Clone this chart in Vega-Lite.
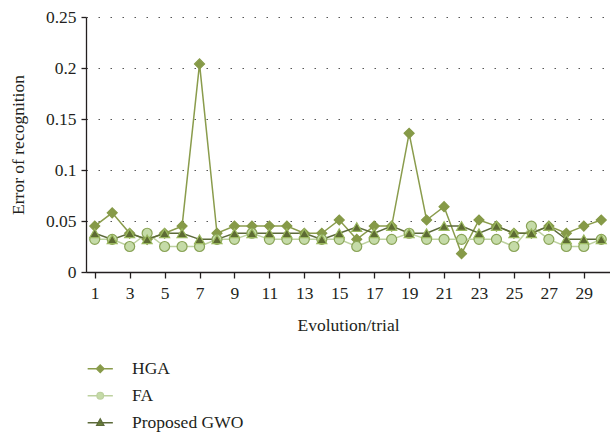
{
  "$schema": "https://vega.github.io/schema/vega-lite/v6.json",
  "width": 524,
  "height": 255,
  "autosize": {"type": "none"},
  "padding": {"left": 86, "top": 17, "right": 0, "bottom": 162},
  "background": "white",
  "config": {
    "font": "Liberation Serif",
    "view": {"stroke": null},
    "legend": {"orient": "none", "legendX": 5.5, "legendY": 343, "direction": "vertical", "labelFont": "Liberation Serif", "labelFontSize": 17.5, "labelColor": "#231f20", "rowPadding": 8, "labelOffset": 23, "symbolSize": 36}
  },
  "data": {"values": [
    {"trial": 1, "method": "HGA", "error": 0.045}, {"trial": 2, "method": "HGA", "error": 0.058}, {"trial": 3, "method": "HGA", "error": 0.038}, {"trial": 4, "method": "HGA", "error": 0.032}, {"trial": 5, "method": "HGA", "error": 0.038},
    {"trial": 6, "method": "HGA", "error": 0.045}, {"trial": 7, "method": "HGA", "error": 0.204}, {"trial": 8, "method": "HGA", "error": 0.038}, {"trial": 9, "method": "HGA", "error": 0.045}, {"trial": 10, "method": "HGA", "error": 0.045},
    {"trial": 11, "method": "HGA", "error": 0.045}, {"trial": 12, "method": "HGA", "error": 0.045}, {"trial": 13, "method": "HGA", "error": 0.038}, {"trial": 14, "method": "HGA", "error": 0.038}, {"trial": 15, "method": "HGA", "error": 0.051},
    {"trial": 16, "method": "HGA", "error": 0.032}, {"trial": 17, "method": "HGA", "error": 0.045}, {"trial": 18, "method": "HGA", "error": 0.045}, {"trial": 19, "method": "HGA", "error": 0.136}, {"trial": 20, "method": "HGA", "error": 0.051},
    {"trial": 21, "method": "HGA", "error": 0.064}, {"trial": 22, "method": "HGA", "error": 0.018}, {"trial": 23, "method": "HGA", "error": 0.051}, {"trial": 24, "method": "HGA", "error": 0.045}, {"trial": 25, "method": "HGA", "error": 0.038},
    {"trial": 26, "method": "HGA", "error": 0.038}, {"trial": 27, "method": "HGA", "error": 0.045}, {"trial": 28, "method": "HGA", "error": 0.038}, {"trial": 29, "method": "HGA", "error": 0.045}, {"trial": 30, "method": "HGA", "error": 0.051},
    {"trial": 1, "method": "FA", "error": 0.032}, {"trial": 2, "method": "FA", "error": 0.032}, {"trial": 3, "method": "FA", "error": 0.025}, {"trial": 4, "method": "FA", "error": 0.038}, {"trial": 5, "method": "FA", "error": 0.025},
    {"trial": 6, "method": "FA", "error": 0.025}, {"trial": 7, "method": "FA", "error": 0.025}, {"trial": 8, "method": "FA", "error": 0.032}, {"trial": 9, "method": "FA", "error": 0.032}, {"trial": 10, "method": "FA", "error": 0.038},
    {"trial": 11, "method": "FA", "error": 0.032}, {"trial": 12, "method": "FA", "error": 0.032}, {"trial": 13, "method": "FA", "error": 0.032}, {"trial": 14, "method": "FA", "error": 0.032}, {"trial": 15, "method": "FA", "error": 0.032},
    {"trial": 16, "method": "FA", "error": 0.025}, {"trial": 17, "method": "FA", "error": 0.032}, {"trial": 18, "method": "FA", "error": 0.032}, {"trial": 19, "method": "FA", "error": 0.038}, {"trial": 20, "method": "FA", "error": 0.032},
    {"trial": 21, "method": "FA", "error": 0.032}, {"trial": 22, "method": "FA", "error": 0.032}, {"trial": 23, "method": "FA", "error": 0.032}, {"trial": 24, "method": "FA", "error": 0.032}, {"trial": 25, "method": "FA", "error": 0.025},
    {"trial": 26, "method": "FA", "error": 0.045}, {"trial": 27, "method": "FA", "error": 0.032}, {"trial": 28, "method": "FA", "error": 0.025}, {"trial": 29, "method": "FA", "error": 0.025}, {"trial": 30, "method": "FA", "error": 0.032},
    {"trial": 1, "method": "Proposed GWO", "error": 0.038}, {"trial": 2, "method": "Proposed GWO", "error": 0.032}, {"trial": 3, "method": "Proposed GWO", "error": 0.038}, {"trial": 4, "method": "Proposed GWO", "error": 0.032}, {"trial": 5, "method": "Proposed GWO", "error": 0.038},
    {"trial": 6, "method": "Proposed GWO", "error": 0.038}, {"trial": 7, "method": "Proposed GWO", "error": 0.032}, {"trial": 8, "method": "Proposed GWO", "error": 0.032}, {"trial": 9, "method": "Proposed GWO", "error": 0.038}, {"trial": 10, "method": "Proposed GWO", "error": 0.038},
    {"trial": 11, "method": "Proposed GWO", "error": 0.038}, {"trial": 12, "method": "Proposed GWO", "error": 0.038}, {"trial": 13, "method": "Proposed GWO", "error": 0.038}, {"trial": 14, "method": "Proposed GWO", "error": 0.032}, {"trial": 15, "method": "Proposed GWO", "error": 0.038},
    {"trial": 16, "method": "Proposed GWO", "error": 0.044}, {"trial": 17, "method": "Proposed GWO", "error": 0.038}, {"trial": 18, "method": "Proposed GWO", "error": 0.045}, {"trial": 19, "method": "Proposed GWO", "error": 0.038}, {"trial": 20, "method": "Proposed GWO", "error": 0.038},
    {"trial": 21, "method": "Proposed GWO", "error": 0.045}, {"trial": 22, "method": "Proposed GWO", "error": 0.045}, {"trial": 23, "method": "Proposed GWO", "error": 0.038}, {"trial": 24, "method": "Proposed GWO", "error": 0.045}, {"trial": 25, "method": "Proposed GWO", "error": 0.038},
    {"trial": 26, "method": "Proposed GWO", "error": 0.038}, {"trial": 27, "method": "Proposed GWO", "error": 0.045}, {"trial": 28, "method": "Proposed GWO", "error": 0.032}, {"trial": 29, "method": "Proposed GWO", "error": 0.032}, {"trial": 30, "method": "Proposed GWO", "error": 0.032}
  ]},
  "encoding": {
    "x": {"field": "trial", "type": "quantitative", "scale": {"domain": [0.5, 30.5], "nice": false, "zero": false},
      "axis": {"title": "Evolution/trial", "values": [1,3,5,7,9,11,13,15,17,19,21,23,25,27,29], "grid": false, "tickSize": 6, "labelPadding": 6, "titlePadding": 15,
        "labelFont": "Liberation Serif", "titleFont": "Liberation Serif", "labelFontSize": 17.5, "titleFontSize": 17.5, "titleFontWeight": "normal", "labelColor": "#231f20", "titleColor": "#231f20", "domainColor": "#231f20", "tickColor": "#231f20", "domainWidth": 1.3, "tickWidth": 1.3}},
    "y": {"field": "error", "type": "quantitative", "scale": {"domain": [0, 0.25], "nice": false},
      "axis": {"title": "Error of recognition", "values": [0, 0.05, 0.1, 0.15, 0.2, 0.25], "labelExpr": "datum.value == 0 ? '0' : format(datum.value, '.2~f')", "grid": true, "gridColor": "#555555", "gridDash": [1.5, 10.5], "gridWidth": 1.2, "tickSize": 5, "labelPadding": 5, "titlePadding": 18,
        "labelFont": "Liberation Serif", "titleFont": "Liberation Serif", "labelFontSize": 17.5, "titleFontSize": 17.5, "titleFontWeight": "normal", "labelColor": "#231f20", "titleColor": "#231f20", "domainColor": "#231f20", "tickColor": "#231f20", "domainWidth": 1.3, "tickWidth": 1.3}}
  },
  "layer": [
    {
      "mark": {"type": "line", "strokeWidth": 1.5},
      "encoding": {
        "color": {"field": "method", "type": "nominal", "scale": {"domain": ["HGA", "FA", "Proposed GWO"], "range": ["#8a9c4c", "#bdd19f", "#5c6a3a"]},
          "legend": {"title": null,
            "encode": {"symbols": {"update": {
              "shape": {"signal": "datum.value == 'HGA' ? 'M-4.2,0H4.2M0,-1.3L1.3,0L0,1.3L-1.3,0Z' : datum.value == 'FA' ? 'M-4.2,0H-1.1M1.1,0H4.2M-1.1,0A1.1,1.1 0 1,0 1.1,0A1.1,1.1 0 1,0 -1.1,0Z' : 'M-4.2,0H4.2M0,-1.3L1.2,0.9L-1.2,0.9Z'"},
              "fill": {"signal": "datum.value == 'HGA' ? '#869a48' : datum.value == 'FA' ? '#c5dba8' : '#6e8a3a'"},
              "strokeWidth": {"value": 1.3},
              "opacity": {"value": 1}
            }}}}},
        "order": {"field": "trial", "type": "quantitative"}
      }
    },
    {
      "transform": [{"filter": "datum.method == 'HGA'"}],
      "mark": {"type": "point", "shape": "diamond", "filled": true, "size": 100, "fill": "#869a48", "stroke": "#869a48", "strokeWidth": 1.2, "opacity": 1}
    },
    {
      "transform": [{"filter": "datum.method == 'FA'"}],
      "mark": {"type": "point", "shape": "circle", "filled": true, "size": 100, "fill": "#c5dba8", "stroke": "#89a356", "strokeWidth": 1.2, "opacity": 1}
    },
    {
      "transform": [{"filter": "datum.method == 'Proposed GWO'"}],
      "mark": {"type": "point", "shape": "triangle-up", "filled": true, "size": 100, "fill": "#5d6b33", "stroke": "#9ab85e", "strokeWidth": 1.2, "opacity": 1}
    }
  ]
}
